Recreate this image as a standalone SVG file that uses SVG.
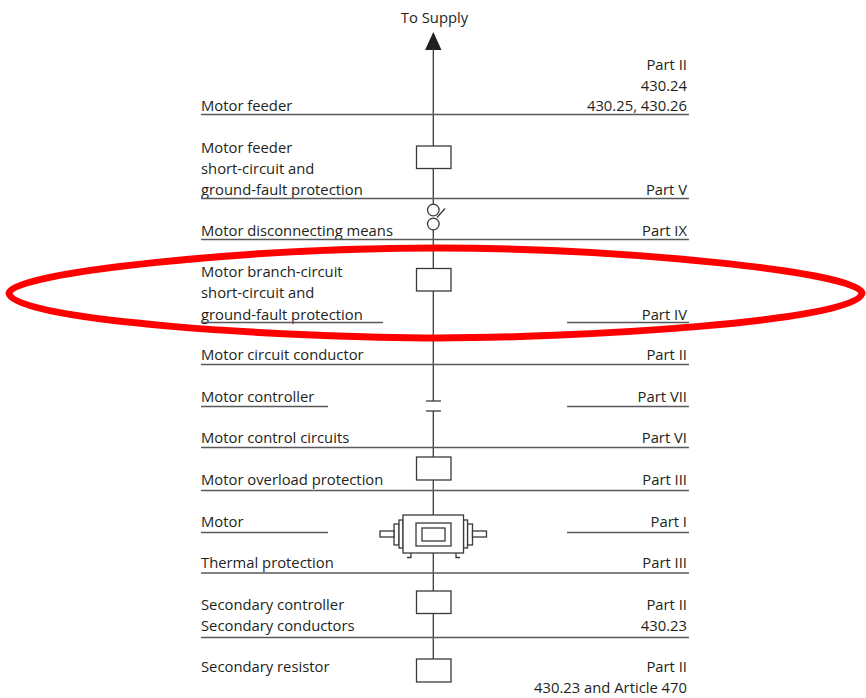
<svg xmlns="http://www.w3.org/2000/svg" width="866" height="698" viewBox="0 0 866 698">
<style>
text{font-family:"Open Sans","Liberation Sans",sans-serif;font-size:14.8px;fill:#231f20}
.r{text-anchor:end}
.m{text-anchor:middle}
.rule{stroke:#58595b;stroke-width:1.3;fill:none}
.wire{stroke:#3a3a3a;stroke-width:1.3;fill:none}
.box{stroke:#3a3a3a;stroke-width:1.3;fill:#fff}
</style>
<rect width="866" height="698" fill="#fff"/>

<g id="connectors">
<path d="M433.3 32 L441.5 50 L425.1 50 Z" fill="#231f20"/>
<line class="wire" x1="433.3" y1="48" x2="433.3" y2="146"/>
<line class="wire" x1="433.3" y1="168" x2="433.3" y2="204"/>
<line class="wire" x1="433.3" y1="230" x2="433.3" y2="268"/>
<line class="wire" x1="433.3" y1="291" x2="433.3" y2="401"/>
<line class="wire" x1="433.3" y1="411" x2="433.3" y2="457"/>
<line class="wire" x1="433.3" y1="480" x2="433.3" y2="515"/>
<line class="wire" x1="433.3" y1="553" x2="433.3" y2="591"/>
<line class="wire" x1="433.3" y1="613" x2="433.3" y2="659"/>
</g>

<g id="supply"><text class="m" x="434.5" y="23">To Supply</text></g>

<g id="motor-feeder">
<text x="201" y="111">Motor feeder</text>
<text class="r" x="687" y="70">Part II</text>
<text class="r" x="687" y="91">430.24</text>
<text class="r" x="687" y="111">430.25, 430.26</text>
<line class="rule" x1="201" y1="114.5" x2="689" y2="114.5"/>
</g>

<g id="feeder-protection">
<rect class="box" x="416.5" y="146" width="34.5" height="22.5"/>
<text x="201" y="153">Motor feeder</text>
<text x="201" y="174">short-circuit and</text>
<text x="201" y="195">ground-fault protection</text>
<text class="r" x="687" y="195">Part V</text>
<line class="rule" x1="201" y1="198.5" x2="689" y2="198.5"/>
</g>

<g id="disconnecting-means">
<circle class="box" cx="433.3" cy="210" r="5.8"/>
<circle class="box" cx="433.3" cy="224" r="5.8"/>
<line class="wire" x1="437" y1="217.5" x2="445" y2="208.5"/>
<text x="201" y="236">Motor disconnecting means</text>
<text class="r" x="687" y="236">Part IX</text>
<line class="rule" x1="201" y1="239.5" x2="689" y2="239.5"/>
</g>

<g id="branch-protection">
<rect class="box" x="416.5" y="268.5" width="34.5" height="22.5"/>
<text x="201" y="277">Motor branch-circuit</text>
<text x="201" y="298">short-circuit and</text>
<text x="201" y="320">ground-fault protection</text>
<text class="r" x="687" y="320">Part IV</text>
<line class="rule" x1="201" y1="322.5" x2="383" y2="322.5"/>
<line class="rule" x1="567" y1="322.5" x2="689" y2="322.5"/>
</g>

<g id="circuit-conductor">
<text x="201" y="360">Motor circuit conductor</text>
<text class="r" x="687" y="360">Part II</text>
<line class="rule" x1="201" y1="364.5" x2="689" y2="364.5"/>
</g>

<g id="controller">
<line class="wire" x1="426" y1="401" x2="441" y2="401"/>
<line class="wire" x1="426" y1="411" x2="441" y2="411"/>
<text x="201" y="402">Motor controller</text>
<text class="r" x="687" y="402">Part VII</text>
<line class="rule" x1="201" y1="406.5" x2="328" y2="406.5"/>
<line class="rule" x1="567" y1="406.5" x2="689" y2="406.5"/>
</g>

<g id="control-circuits">
<text x="201" y="443">Motor control circuits</text>
<text class="r" x="687" y="443">Part VI</text>
<line class="rule" x1="201" y1="447.5" x2="689" y2="447.5"/>
</g>

<g id="overload">
<rect class="box" x="416.5" y="457" width="34.5" height="23"/>
<text x="201" y="485">Motor overload protection</text>
<text class="r" x="687" y="485">Part III</text>
<line class="rule" x1="201" y1="490.5" x2="689" y2="490.5"/>
</g>

<g id="motor">
<rect class="box" x="394" y="524" width="5" height="21"/>
<rect class="box" x="399" y="520" width="4" height="28"/>
<rect class="box" x="380" y="531" width="14" height="6"/>
<rect class="box" x="467.5" y="524" width="5" height="21"/>
<rect class="box" x="463.5" y="520" width="4" height="28"/>
<rect class="box" x="472.5" y="531" width="14" height="6"/>
<rect class="box" x="403" y="515" width="60.5" height="38"/>
<rect class="box" x="416" y="523" width="35" height="23"/>
<rect class="box" x="422" y="528" width="23" height="13"/>
<path class="wire" d="M411 553 V557.5 H407"/>
<path class="wire" d="M456 553 V557.5 H460"/>
<text x="201" y="527">Motor</text>
<text class="r" x="687" y="527">Part I</text>
<line class="rule" x1="201" y1="532.5" x2="328" y2="532.5"/>
<line class="rule" x1="567" y1="532.5" x2="689" y2="532.5"/>
</g>

<g id="thermal">
<text x="201" y="568">Thermal protection</text>
<text class="r" x="687" y="568">Part III</text>
<line class="rule" x1="201" y1="573" x2="689" y2="573"/>
</g>

<g id="secondary-controller">
<rect class="box" x="416.5" y="591" width="34.5" height="22.5"/>
<text x="201" y="610">Secondary controller</text>
<text x="201" y="631">Secondary conductors</text>
<text class="r" x="687" y="610">Part II</text>
<text class="r" x="687" y="631">430.23</text>
<line class="rule" x1="201" y1="637.5" x2="689" y2="637.5"/>
</g>

<g id="secondary-resistor">
<rect class="box" x="416.5" y="659" width="34.5" height="23"/>
<text x="201" y="672">Secondary resistor</text>
<text class="r" x="687" y="672">Part II</text>
<text class="r" x="687" y="693">430.23 and Article 470</text>
</g>

<g id="highlight">
<path d="M9 293 C12 272 250 248 437 248 C621 248 859 272 862 293 C861 322 571 338 437 338 C300 338 10 322 9 293 Z" fill="none" stroke="#ff0000" stroke-width="7"/>
</g>
</svg>
